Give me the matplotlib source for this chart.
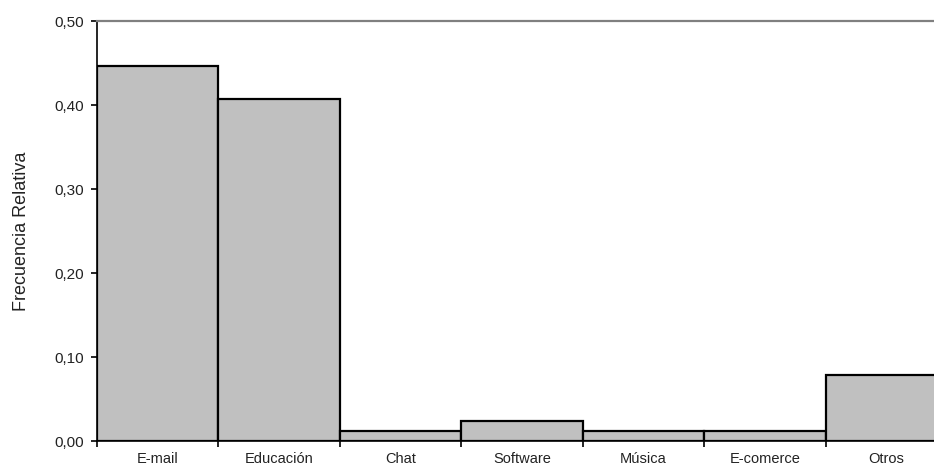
import numpy as np
import matplotlib.pyplot as plt
from matplotlib.ticker import FixedLocator, FuncFormatter

categories = ["E-mail", "Educación", "Chat", "Software", "Música", "E-comerce", "Otros"]
freq_rel = [0.446, 0.407, 0.012, 0.024, 0.012, 0.012, 0.078]
y_ticks = [0.0, 0.1, 0.2, 0.3, 0.4, 0.5]

plt.rcParams["font.family"] = ["Liberation Sans", "DejaVu Sans"]

fig = plt.figure(figsize=(9.34, 4.65), dpi=100)
ax = fig.add_axes([0.1039, 0.0516, 0.910, 0.9032])

x = np.arange(len(categories))
ax.bar(x, freq_rel, width=1.0, color="#c0c0c0", edgecolor="black", linewidth=1.6)

ax.set_xlim(-0.5, len(categories) - 0.5)
ax.set_ylim(0, 0.5)

ax.set_xticks(x)
ax.set_xticklabels(categories, fontsize=10.5, color="#222222")
ax.tick_params(axis="x", which="major", length=0, pad=8)
ax.xaxis.set_minor_locator(FixedLocator(np.arange(-0.5, len(categories), 1.0)))
ax.tick_params(axis="x", which="minor", length=4.3, width=1.2, direction="out")

ax.set_yticks(y_ticks)
ax.yaxis.set_major_formatter(FuncFormatter(lambda v, p: f"{v:.2f}".replace(".", ",")))
ax.tick_params(axis="y", length=4.3, width=1.2, labelsize=11, labelcolor="#222222", pad=5)

ax.set_ylabel("Frecuencia Relativa", fontsize=13, color="#222222", labelpad=18)

ax.spines["top"].set_color("#808080")
ax.spines["top"].set_linewidth(1.6)
ax.spines["right"].set_visible(False)
ax.spines["left"].set_linewidth(1.2)
ax.spines["bottom"].set_linewidth(1.2)

fig.savefig("out.png", dpi=100)
